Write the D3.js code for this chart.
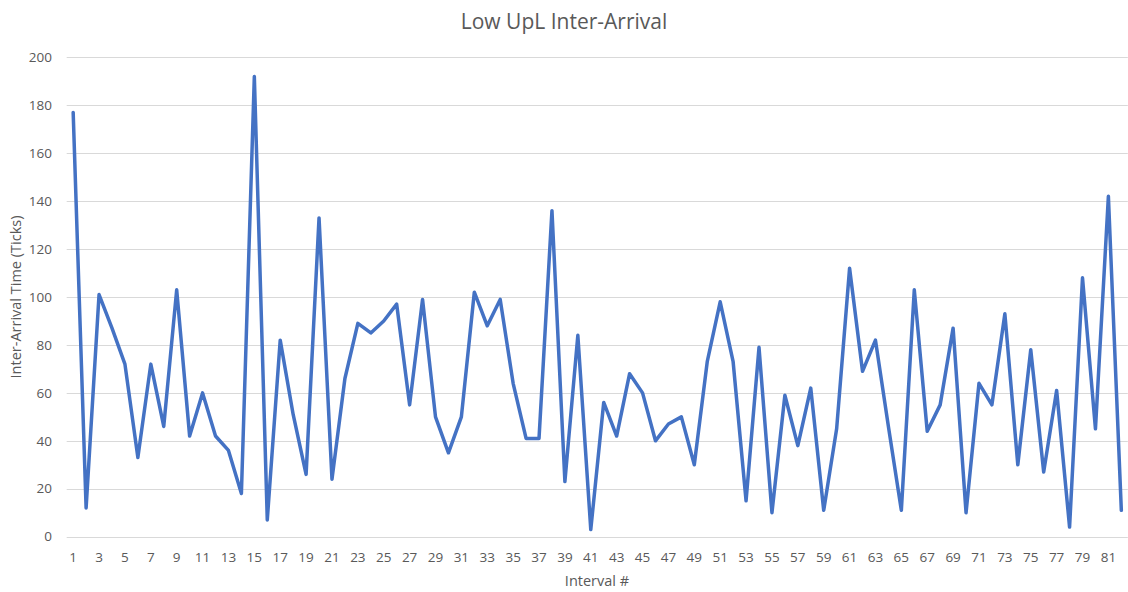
<!DOCTYPE html>
<html><head><meta charset="utf-8">
<script src="https://cdn.jsdelivr.net/npm/d3@7"></script>
<style>
html,body{margin:0;padding:0;background:#fff;}
svg text{font-family:"Open Sans","Lato",sans-serif;fill:#595959;}
</style></head>
<body><svg id="c" width="1128" height="592"></svg>
<script>
const chartTitle = "Low UpL Inter-Arrival";
const xTitle = "Interval #";
const yTitle = "Inter-Arrival Time (Ticks)";
const intervals = d3.range(1, 83);
const values = [177,12,101,87,72,33,72,46,103,42,60,42,36,18,192,7,82,51,26,133,
  24,66,89,85,90,97,55,99,50,35,50,102,88,99,64,41,41,136,23,84,
  3,56,42,68,60,40,47,50,30,73,98,73,15,79,10,59,38,62,11,45,
  112,69,82,46,11,103,44,55,87,10,64,55,93,30,78,27,61,4,108,45,142,11];
const yTicks = [0,20,40,60,80,100,120,140,160,180,200];

(function(){
const svg = d3.select("#c");
const pL = 66.7, pR = 1127.8, pT = 57.3, pB = 536.7;
const x = d3.scaleBand().domain(intervals).range([pL, pR]);
const y = d3.scaleLinear().domain([0, 200]).range([pB, pT]);

svg.append("g").selectAll("line").data(yTicks).join("line")
  .attr("x1", pL).attr("x2", pR)
  .attr("y1", d => Math.round(y(d)) + 0.5).attr("y2", d => Math.round(y(d)) + 0.5)
  .attr("stroke", "#d9d9d9").attr("stroke-width", 1);

svg.append("g").selectAll("text").data(yTicks).join("text")
  .attr("x", 52).attr("y", d => y(d)).attr("dy", "0.35em")
  .attr("text-anchor", "end").attr("font-size", 13.5).text(d => d);

svg.append("g").selectAll("text").data(intervals.filter(d => d % 2 === 1)).join("text")
  .attr("x", d => x(d) + x.bandwidth() / 2).attr("y", 557).attr("dy", "0.35em")
  .attr("text-anchor", "middle").attr("font-size", 13.5).text(d => d);

const line = d3.line().x((d, i) => x(intervals[i]) + x.bandwidth() / 2).y(d => y(d));
svg.append("path").datum(values).attr("d", line)
  .attr("fill", "none").attr("stroke", "#4472C4").attr("stroke-width", 3.5)
  .attr("stroke-linejoin", "round").attr("stroke-linecap", "round");

svg.append("text").attr("x", 564).attr("y", 22).attr("dy", "0.35em")
  .attr("text-anchor", "middle").attr("font-size", 21).text(chartTitle);
svg.append("text").attr("x", 597).attr("y", 581).attr("dy", "0.35em")
  .attr("text-anchor", "middle").attr("font-size", 14.5).text(xTitle);
svg.append("text").attr("transform", "translate(16,297) rotate(-90)").attr("dy", "0.35em")
  .attr("text-anchor", "middle").attr("font-size", 14.5).text(yTitle);
})();
</script></body></html>
